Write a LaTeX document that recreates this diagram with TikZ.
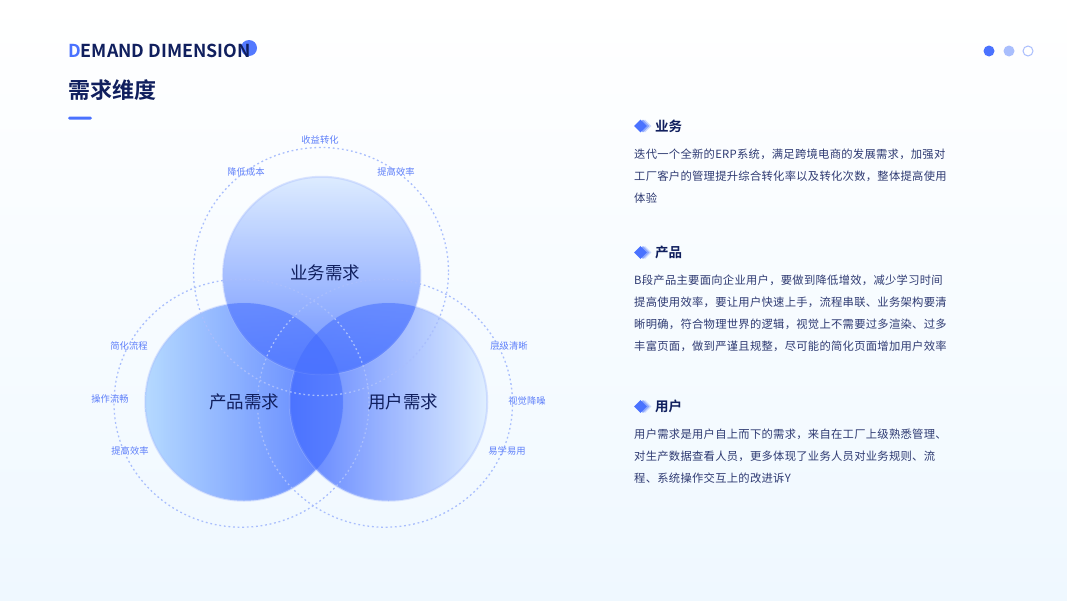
\documentclass[tikz,border=0pt]{standalone}
\usepackage{fontspec}
\setmainfont{Noto Sans}
\newfontfamily\cjk{Noto Sans CJK SC}
\newfontfamily\cjkbody[LetterSpace=2.5]{Noto Sans CJK SC}
\newfontfamily\cjkbold[BoldFont={Noto Sans CJK SC Bold}]{Noto Sans CJK SC}
\usepackage{tikz}
\usetikzlibrary{arrows.meta,shapes.geometric,positioning,calc}
\definecolor{navy}{HTML}{101F5E}
\definecolor{bodyink}{HTML}{2E3A72}
\definecolor{accent}{HTML}{4A72FF}
\definecolor{softblue}{HTML}{A9BEFD}
\definecolor{labelblue}{HTML}{5F80FA}
\definecolor{pagebottom}{HTML}{EFF8FF}
\definecolor{leftpale}{HTML}{AED6FF}
\definecolor{rightpale}{HTML}{DEEEFF}
\definecolor{toppale}{HTML}{DAEAFF}
\definecolor{topmiddle}{HTML}{98B9FF}
\definecolor{topdeep}{HTML}{5F86FF}

\begin{document}
\begin{tikzpicture}[
    x=1pt, y=-1pt,
    bubble/.style={circle, inner sep=0pt, minimum size=197.5pt, draw=softblue, draw opacity=.4, line width=2pt, fill opacity=.9},
    lens/.style={fill=accent, fill opacity=.55},
    ring/.style={ellipse, inner sep=0pt, minimum width=255pt, minimum height=248pt, draw=softblue, line width=1.3pt, dash pattern=on 1.8pt off 2.8pt},
    bigtext/.style={font=\cjk\fontsize{17.5}{20}\selectfont, text=navy},
    smalltext/.style={font=\cjk\fontsize{9.3}{11}\selectfont, text=labelblue},
    headtext/.style={font=\cjkbold\bfseries\fontsize{13.5}{16}\selectfont, text=navy, anchor=west, inner sep=0pt},
    bodytext/.style={font=\cjkbody\fontsize{11.3}{22}\selectfont, text=bodyink, align=left, anchor=north west, inner sep=0pt},
    chip/.style={diamond, inner sep=0pt, minimum size=13pt, fill=accent},
    dot/.style={circle, inner sep=0pt, minimum size=11pt},
]
\shade[top color=white, bottom color=pagebottom] (0,0) rectangle (1067,600);
\useasboundingbox (0,0) rectangle (1067,600);

% header
\node[circle, inner sep=0pt, minimum size=16pt, fill=accent, fill opacity=.95] (titledot) at (249,48) {};
\node[anchor=west, inner sep=0pt, text=navy, font=\cjkbold\bfseries\fontsize{17.8}{20}\selectfont] (entitle) at (68,51) {\textcolor{accent}{D}EMAND DIMENSION};
\node[anchor=west, inner sep=0pt, text=navy, font=\cjkbold\bfseries\fontsize{22}{26}\selectfont] (cntitle) at (68,90) {需求维度};
\node[rectangle, rounded corners=1.5pt, inner sep=0pt, minimum width=24pt, minimum height=3pt, fill=accent] (titlebar) at (80,118) {};

\node[dot, fill=accent] (pageone) at (989,51) {};
\node[dot, fill=softblue] (pagetwo) at (1009,51) {};
\node[dot, draw=softblue, fill=white, line width=1pt, minimum size=10pt] (pagethree) at (1028,51) {};

% bubbles
\node[bubble, left color=leftpale, right color=accent] (product) at (244,402) {};
\node[bubble, left color=accent, right color=rightpale] (user) at (388.5,402) {};
\node[bubble, top color=toppale, middle color=topmiddle, bottom color=topdeep] (business) at (321.7,275.5) {};

% overlaps
\begin{scope}
  \clip (business.center) circle[radius=99];
  \fill[lens] (product.center) circle[radius=99];
  \fill[lens] (user.center) circle[radius=99];
\end{scope}
\begin{scope}
  \clip (product.center) circle[radius=99];
  \fill[lens] (user.center) circle[radius=99];
\end{scope}

\node[ring] (ringtop) at (321,271.5) {};
\node[ring] (ringleft) at (241.5,403.2) {};
\node[ring] (ringright) at (385,403.2) {};

\node[bigtext] (bizname) at (325,273) {业务需求};
\node[bigtext] (prodname) at (244,402) {产品需求};
\node[bigtext] (username) at (403,402) {用户需求};

\node[smalltext] (tagone) at (320,140) {收益转化};
\node[smalltext] (tagtwo) at (246,172) {降低成本};
\node[smalltext] (tagthree) at (396,172) {提高效率};
\node[smalltext] (tagfour) at (129,346) {简化流程};
\node[smalltext] (tagfive) at (110,398.5) {操作流畅};
\node[smalltext] (tagsix) at (130,450.5) {提高效率};
\node[smalltext] (tagseven) at (509,346) {层级清晰};
\node[smalltext] (tageight) at (527,401) {视觉降噪};
\node[smalltext] (tagnine) at (507,451) {易学易用};

% right column
\foreach \name/\ypos/\head in {biz/126/业务, prod/252.5/产品, usr/406.5/用户} {
  \node[chip, fill=softblue!60!white] (\name chipc) at (645,\ypos) {};
  \node[chip, fill=softblue!70!accent] (\name chipb) at (643,\ypos) {};
  \node[chip] (\name chipa) at (640.5,\ypos) {};
  \node[headtext] (\name head) at (655,\ypos) {\head};
}
\node[bodytext] (bizbody) at (634,149) {迭代一个全新的ERP系统，满足跨境电商的发展需求，加强对\\工厂客户的管理提升综合转化率以及转化次数，整体提高使用\\体验};
\node[bodytext] (prodbody) at (634,275) {B段产品主要面向企业用户，要做到降低增效，减少学习时间\\提高使用效率，要让用户快速上手，流程串联、业务架构要清\\晰明确，符合物理世界的逻辑，视觉上不需要过多渲染、过多\\丰富页面，做到严谨且规整，尽可能的简化页面增加用户效率};
\node[bodytext] (usrbody) at (634,429) {用户需求是用户自上而下的需求，来自在工厂上级熟悉管理、\\对生产数据查看人员，更多体现了业务人员对业务规则、流\\程、系统操作交互上的改进诉Y};
\end{tikzpicture}
\end{document}
